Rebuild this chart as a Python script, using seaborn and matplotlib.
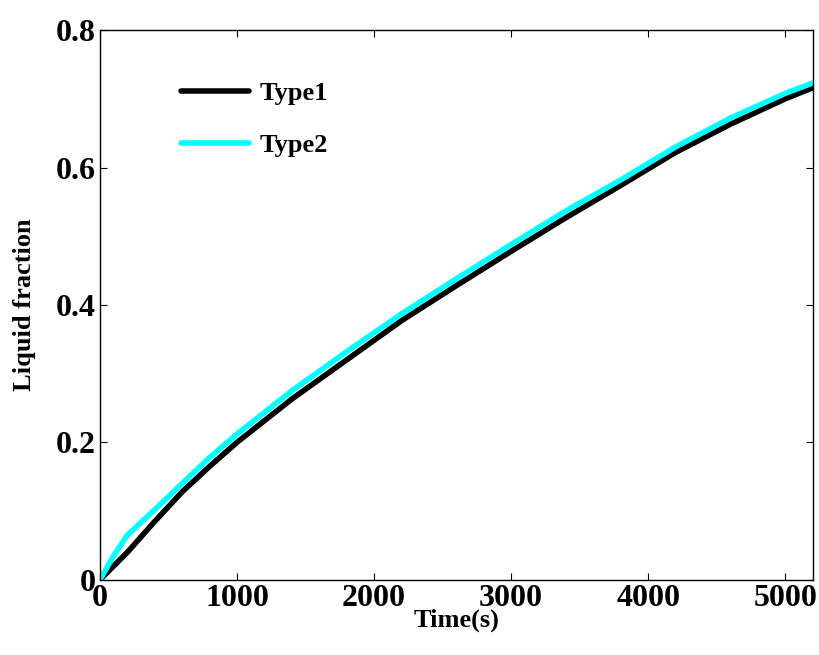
import matplotlib
matplotlib.use("Agg")
import matplotlib.pyplot as plt
import seaborn as sns
import pandas as pd

time_s = [0, 100, 200, 400, 600, 800, 1000, 1400, 1800, 2200, 2600, 3000, 3400, 3800, 4200, 4600, 5000, 5200]
type1 = [0, 0.02, 0.04, 0.085, 0.128, 0.165, 0.200, 0.263, 0.320, 0.377, 0.428, 0.478, 0.527, 0.574, 0.622, 0.663, 0.700, 0.716]
type2 = [0, 0.035, 0.065, 0.102, 0.140, 0.178, 0.212, 0.275, 0.332, 0.387, 0.438, 0.488, 0.537, 0.582, 0.630, 0.672, 0.708, 0.723]

df = pd.DataFrame({"Time": time_s * 2,
                   "Liquid fraction": type1 + type2,
                   "Series": ["Type1"] * len(time_s) + ["Type2"] * len(time_s)})

sns.set_style("ticks")
plt.rcParams['font.family'] = ['Liberation Serif', 'DejaVu Serif']
plt.rcParams['font.weight'] = 'bold'
plt.rcParams['text.color'] = 'black'
plt.rcParams['axes.labelcolor'] = 'black'
plt.rcParams['xtick.color'] = 'black'
plt.rcParams['ytick.color'] = 'black'
plt.rcParams['axes.edgecolor'] = 'black'

fig, ax = plt.subplots(figsize=(8.2, 6.55), dpi=100)
fig.subplots_adjust(left=0.122, right=0.991, top=0.954, bottom=0.115)
sns.lineplot(data=df, x="Time", y="Liquid fraction", hue="Series",
             palette={"Type1": "black", "Type2": "#00ffff"}, linewidth=4, ax=ax)

ax.set_xlim(0, 5200)
ax.set_ylim(0, 0.8)
ax.set_xticks([0, 1000, 2000, 3000, 4000, 5000])
ax.set_yticks([0, 0.2, 0.4, 0.6, 0.8])
ax.set_yticklabels(["0", "0.2", "0.4", "0.6", "0.8"])
ax.tick_params(direction="in", labelsize=23, top=True, right=True, width=0.8, length=5, pad=3)
for lbl in ax.get_xticklabels() + ax.get_yticklabels():
    lbl.set_fontweight('bold')
ax.set_xlabel("Time(s)", fontsize=19, fontweight='bold', labelpad=-3)
ax.set_ylabel("Liquid fraction", fontsize=19, fontweight='bold', labelpad=14)
for s in ax.spines.values():
    s.set_linewidth(1)

leg = ax.legend(loc="upper left", bbox_to_anchor=(0.08, 0.95), frameon=False,
                prop={'size': 19, 'weight': 'bold'}, handlelength=2.6, handletextpad=0.4,
                labelspacing=1.1)

fig.savefig("out.png", dpi=100)
